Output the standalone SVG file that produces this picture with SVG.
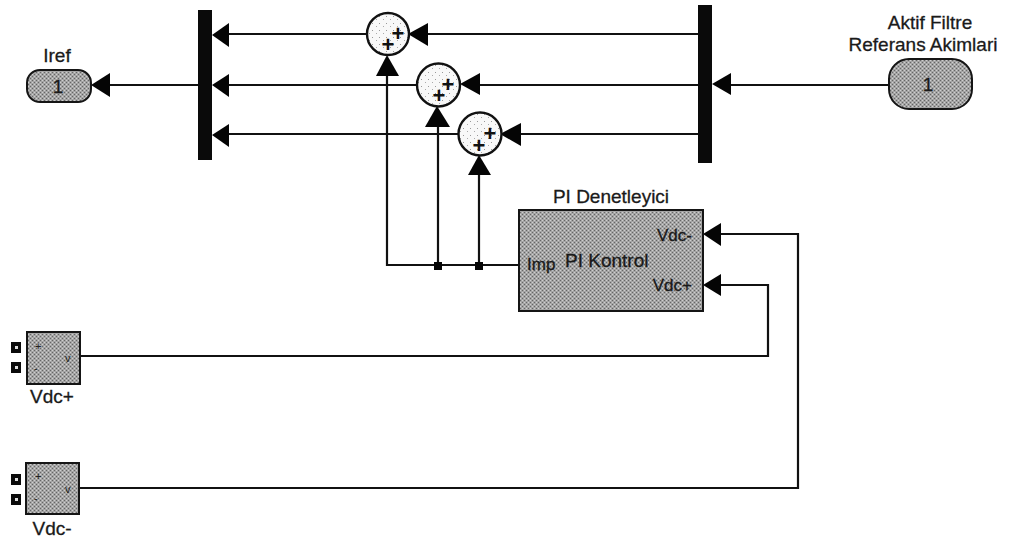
<svg xmlns="http://www.w3.org/2000/svg" width="1017" height="540" viewBox="0 0 1017 540">
<style>
text{font-family:"Liberation Sans",Arial,sans-serif;font-size:19px;fill:#1a1a1a;stroke:#1a1a1a;stroke-width:.3}
.m{text-anchor:middle}.e{text-anchor:end}
.w{fill:none;stroke:#111;stroke-width:2.2}
.a{fill:#050505}
.bar{fill:#0a0a0a}
.g{fill:url(#dither);stroke:#151515;stroke-width:2}
.s{fill:url(#spark);stroke:#111;stroke-width:2.4}
.p{font-size:22px;font-weight:bold;fill:#111;stroke:none}
.t{font-size:11px;fill:#222;stroke:none}
.port{fill:#0a0a0a}.pi{fill:#ddd}
.in{font-size:17px}
</style>
<defs>
<pattern id="dither" width="4" height="4" patternUnits="userSpaceOnUse">
<rect width="4" height="4" fill="#a4a4a4"/>
<rect x="0" y="0" width="1" height="1" fill="#666"/><rect x="2" y="2" width="1" height="1" fill="#666"/>
<rect x="2" y="0" width="1" height="1" fill="#cfcfcf"/><rect x="0" y="2" width="1" height="1" fill="#cfcfcf"/>
</pattern>
<pattern id="spark" width="7" height="7" patternUnits="userSpaceOnUse">
<rect width="7" height="7" fill="#f8f8f8"/>
<rect x="1" y="2" width="1" height="1" fill="#999"/><rect x="5" y="5" width="1" height="1" fill="#aaa"/>
</pattern>
</defs>
<g id="connectors">
<path class="w" d="M110 85H198"/>
<path class="w" d="M229 34H368M428 34H698"/>
<path class="w" d="M229 85H418M480 85H698"/>
<path class="w" d="M229 134H458M521 134H698"/>
<path class="w" d="M731 85H889"/>
<path class="w" d="M387 76V265H519M438 127V265M479 175V265"/>
<path class="w" d="M81 356H768V285H721"/>
<path class="w" d="M80 488H798V234H721"/>
<rect class="a" x="434" y="262" width="8" height="8"/>
<rect class="a" x="475" y="262" width="8" height="8"/>
<path class="a" d="M91 85L110 73V97Z"/>
<path class="a" d="M212 35L229 23V47Z"/>
<path class="a" d="M212 85L229 74V97Z"/>
<path class="a" d="M212 135L229 124V147Z"/>
<path class="a" d="M408 34L428 23V46Z"/>
<path class="a" d="M460 84L480 73V95Z"/>
<path class="a" d="M500 134L521 123V146Z"/>
<path class="a" d="M387 55L376 76H399Z"/>
<path class="a" d="M437 106L425 127H450Z"/>
<path class="a" d="M479 155L468 175H491Z"/>
<path class="a" d="M712 84L731 73V95Z"/>
<path class="a" d="M703 234L721 223V246Z"/>
<path class="a" d="M703 285L721 274V296Z"/>
</g>
<g id="iref">
<rect class="g" x="27" y="70" width="64" height="32" rx="13"/>
<text class="m" x="58" y="93">1</text>
<text class="m" x="57" y="62">Iref</text>
</g>
<g id="mux"><rect class="bar" x="198" y="10" width="14" height="150"/></g>
<g id="demux"><rect class="bar" x="698" y="5" width="14" height="158"/></g>
<g id="sum1">
<circle class="s" cx="388" cy="34" r="21"/>
<text class="p m" x="398" y="41">+</text><text class="p m" x="388" y="52">+</text>
</g>
<g id="sum2">
<circle class="s" cx="438.500" cy="85" r="21.500"/>
<text class="p m" x="448" y="92">+</text><text class="p m" x="439" y="103">+</text>
</g>
<g id="sum3">
<circle class="s" cx="480" cy="134" r="21.500"/>
<text class="p m" x="490" y="141">+</text><text class="p m" x="479" y="153">+</text>
</g>
<g id="inport">
<rect class="g" x="889" y="59" width="83" height="50" rx="20"/>
<text class="m" x="928" y="91">1</text>
<text class="m" x="930" y="29">Aktif Filtre</text>
<text class="m" x="923" y="51">Referans Akimlari</text>
</g>
<g id="pi">
<rect class="g" x="519" y="210" width="184" height="101"/>
<text class="m" x="611" y="203">PI Denetleyici</text>
<text class="e in" x="692" y="241">Vdc-</text>
<text class="in" x="527" y="270">Imp</text>
<text x="565" y="267">PI Kontrol</text>
<text class="e in" x="692" y="291">Vdc+</text>
</g>
<g id="vdcp">
<rect class="g" x="27" y="332" width="53" height="52"/>
<rect class="port" x="11" y="342" width="10" height="11"/><rect class="pi" x="15" y="346" width="3" height="3"/>
<rect class="port" x="11" y="362" width="10" height="11"/><rect class="pi" x="15" y="366" width="3" height="3"/>
<text class="t" x="35" y="350">+</text><text class="t" x="34" y="372">-</text><text class="t" x="65" y="362">v</text>
<text class="m" x="52" y="403">Vdc+</text>
</g>
<g id="vdcm">
<rect class="g" x="26" y="463" width="53" height="51"/>
<rect class="port" x="11" y="474" width="10" height="11"/><rect class="pi" x="15" y="478" width="3" height="3"/>
<rect class="port" x="11" y="494" width="10" height="11"/><rect class="pi" x="15" y="498" width="3" height="3"/>
<text class="t" x="35" y="480">+</text><text class="t" x="34" y="502">-</text><text class="t" x="65" y="493">v</text>
<text class="m" x="52" y="535">Vdc-</text>
</g>
</svg>
